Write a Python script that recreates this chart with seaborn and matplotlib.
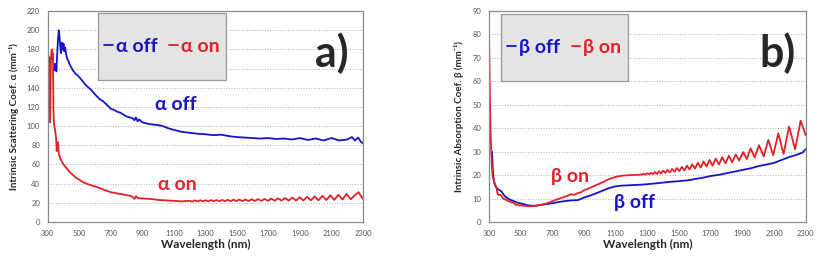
import pandas as pd
import seaborn as sns
import matplotlib.pyplot as plt
from matplotlib.patches import Rectangle

# ======== data ===============================

# panel a) - scattering coefficient alpha
alpha_off_wl = [340, 345, 350, 355, 360, 365, 370, 375, 380, 385, 390, 395, 400, 405, 410, 420, 430, 440,
                450, 460, 470, 480, 490, 500, 520, 540, 560, 580, 600, 630, 650, 670, 700, 720, 740, 760,
                780, 800, 820, 840, 850, 860, 870, 880, 900, 920, 950, 1000, 1030, 1060, 1100, 1150, 1200,
                1250, 1300, 1350, 1400, 1450, 1500, 1550, 1600, 1650, 1700, 1750, 1800, 1850, 1900, 1950,
                2000, 2050, 2100, 2150, 2200, 2230, 2250, 2270, 2285, 2300]
alpha_off = [158, 165, 162, 157, 175, 190, 200, 193, 182, 176, 187, 180, 186, 178, 182, 172, 168, 164,
             161, 158, 156, 154, 153, 151, 147, 143, 140, 137, 133, 128, 126, 123, 118, 117, 115, 114,
             112, 110, 109, 108, 106, 109, 105, 107, 104, 103, 102, 101, 100, 98, 96, 94, 93,
             92, 91.5, 90.5, 91, 89.5, 88.5, 88, 87.5, 87, 87.5, 86.5, 87, 86, 87.5, 85.5,
             87, 85, 87.5, 85, 86, 88.5, 85, 88, 84, 82]

alpha_on_wl = [300, 303, 306, 309, 312, 315, 318, 321, 324, 327, 330, 333, 336, 339, 342, 346, 350, 354,
               357, 360, 363, 366, 369, 372, 380, 390, 400, 420, 440, 460, 480, 500, 530, 560, 600, 650,
               700, 750, 800, 830, 850, 860, 870, 900, 950, 1000, 1050, 1100, 1150,
               1200, 1217, 1234, 1251, 1268, 1285, 1302, 1319, 1336, 1353, 1370, 1388, 1406, 1424, 1442,
               1460, 1478, 1497, 1516, 1535, 1554, 1574, 1594, 1614, 1634, 1655, 1676, 1697, 1718, 1740,
               1762, 1784, 1806, 1829, 1852, 1875, 1898, 1922, 1946, 1970, 1994, 2018, 2043, 2068, 2093,
               2118, 2144, 2170, 2196, 2222, 2249, 2272, 2290, 2300]
alpha_on = [186, 165, 170, 172, 168, 104, 150, 172, 178, 180, 170, 176, 120, 103, 100, 96, 92, 85,
            74, 82, 78, 83, 73, 70, 66, 63, 60, 56, 52, 49, 46, 44, 41, 39, 37, 34,
            31, 29.5, 28, 27, 24, 27, 25, 24.5, 24, 23, 22.5, 22, 21.5,
            22.0, 21.3, 22.5, 21.4, 22.6, 21.5, 22.7, 21.5, 22.8, 21.6, 22.9, 21.6, 23.0, 21.7, 23.1,
            21.7, 23.2, 21.8, 23.3, 21.8, 23.4, 21.9, 23.6, 21.9, 23.8, 22.0, 24.0, 22.0, 24.3, 22.1,
            24.6, 22.2, 25.0, 22.3, 25.4, 22.3, 25.8, 22.4, 26.2, 22.5, 26.6, 22.6, 27.2, 22.8, 27.8,
            23.0, 28.4, 23.3, 29.2, 23.6, 28.0, 31.0, 26.5, 24.0]

# panel b) - absorption coefficient beta
beta_off_wl = [320, 325, 330, 335, 340, 350, 360, 370, 380, 390, 400, 420, 440, 460, 480, 500, 520, 540,
               560, 580, 600, 630, 660, 700, 740, 780, 820, 860, 880, 900, 940, 980, 1020, 1060, 1100,
               1140, 1200, 1260, 1300, 1360, 1400, 1460, 1500, 1560, 1600, 1660, 1700, 1760, 1800, 1860,
               1900, 1960, 2000, 2060, 2100, 2150, 2200, 2250, 2280, 2300]
beta_off = [30, 22, 18, 16.5, 15.5, 14.5, 13.8, 13.5, 13.0, 12.0, 11.0, 10.0, 9.3, 8.8, 8.3, 7.9, 7.6, 7.2,
            7.0, 6.9, 7.0, 7.3, 7.6, 8.0, 8.5, 8.9, 9.2, 9.3, 9.8, 10.4, 11.3, 12.3, 13.4, 14.5, 15.2,
            15.5, 15.7, 15.9, 16.1, 16.5, 16.8, 17.2, 17.4, 17.8, 18.3, 19.0, 19.6, 20.2, 20.8, 21.6,
            22.2, 23.0, 23.8, 24.6, 25.2, 26.5, 27.8, 28.8, 29.6, 31.0]

beta_on_wl = [300, 303, 306, 309, 312, 315, 318, 321, 325, 330, 335, 340, 345, 350, 355, 360, 370, 380,
              390, 400, 420, 440, 460, 470, 480, 490, 500, 520, 540, 560, 580, 600, 620, 650, 680, 700,
              730, 760, 790, 820, 840, 860, 880, 900, 930, 960, 990, 1020, 1050, 1080, 1110, 1140, 1170,
              1200, 1230, 1264, 1276, 1288, 1300, 1312, 1324, 1336, 1348, 1361, 1374, 1387, 1400, 1414,
              1428, 1442, 1457, 1472, 1487, 1502, 1518, 1534, 1550, 1567, 1584, 1601, 1619, 1637, 1655,
              1674, 1693, 1712, 1732, 1752, 1773, 1794, 1815, 1836, 1858, 1880, 1905, 1928, 1952, 1978,
              2005, 2035, 2064, 2095, 2127, 2160, 2195, 2233, 2268, 2300]
beta_on = [84, 70, 55, 45, 36, 30, 25, 22, 19, 18.5, 17, 16, 15, 14, 12, 11.5, 11.7, 11,
           10, 9.7, 9.0, 8.5, 8.0, 7.2, 7.5, 7.0, 7.1, 6.9, 6.8, 6.7, 6.8, 6.9, 7.2, 7.6, 8.3, 8.9,
           9.6, 10.3, 11.0, 11.8, 11.6, 12.3, 12.6, 13.5, 14.3, 15.2, 16.1, 17.0, 18.0, 18.8, 19.4, 19.7, 19.9,
           20.0, 20.1, 20.2, 20.6, 20.2, 20.8, 20.3, 21.0, 20.4, 21.3, 20.5, 21.6, 20.7, 21.9, 20.9,
           22.2, 21.1, 22.6, 21.4, 23.0, 21.7, 23.5, 22.0, 24.0, 22.4, 24.6, 22.8, 25.2, 23.2, 25.8,
           23.6, 26.5, 24.0, 27.0, 24.5, 27.6, 25.0, 28.3, 25.5, 28.8, 26.2, 29.8, 26.8, 31.4, 27.5,
           32.7, 28.0, 35.0, 28.5, 37.8, 29.0, 40.7, 31.0, 43.2, 37.0]

x_ticks = list(range(300, 2301, 200))

BLUE = '#1515c8'
RED = '#e02228'

df_a = pd.concat([
    pd.DataFrame({'wl': alpha_off_wl, 'val': alpha_off, 'series': '\u03b1 off'}),
    pd.DataFrame({'wl': alpha_on_wl, 'val': alpha_on, 'series': '\u03b1 on'}),
])
df_b = pd.concat([
    pd.DataFrame({'wl': beta_off_wl, 'val': beta_off, 'series': '\u03b2 off'}),
    pd.DataFrame({'wl': beta_on_wl, 'val': beta_on, 'series': '\u03b2 on'}),
])

sns.set_style('white')
plt.rcParams['font.family'] = ['Lato', 'DejaVu Sans']

fig = plt.figure(figsize=(8.23, 2.56), dpi=100)
ax1 = fig.add_axes([0.058, 0.133, 0.383, 0.824])
ax2 = fig.add_axes([0.594, 0.133, 0.385, 0.824])


def style_panel(ax, df, names, ymax, ystep, ylabel, box, letter, notes):
    sns.lineplot(data=df, x='wl', y='val', hue='series', palette={names[0]: BLUE, names[1]: RED},
                 linewidth=1.3, ax=ax, estimator=None, sort=False)
    ax.set_xlim(300, 2300)
    ax.set_ylim(0, ymax)
    ax.set_xticks(x_ticks)
    ax.set_yticks(range(0, ymax + 1, ystep))
    ax.tick_params(labelsize=5.5, colors='#555555', length=2, width=0.6)
    ax.yaxis.grid(True, linestyle=':', color='#b0b0b0', linewidth=0.7)
    for s in ax.spines.values():
        s.set_color('#888888')
        s.set_linewidth(0.9)
    ax.set_xlabel('Wavelength (nm)', fontsize=8.5, fontweight='bold', labelpad=2)
    ax.set_ylabel(ylabel, fontsize=7, fontweight='bold', labelpad=6)

    # grey legend box
    ax.add_patch(Rectangle((box[0], box[1]), box[2], box[3], transform=ax.transAxes,
                           facecolor='#e4e4e4', edgecolor='#999999', linewidth=0.9, zorder=3))
    leg = ax.legend(loc='center', bbox_to_anchor=(box[0] + box[2] / 2, box[1] + box[3] / 2),
                    ncol=2, frameon=False, handlelength=0.45, handletextpad=0.15,
                    columnspacing=0.6, prop={'weight': 'bold', 'size': 14}, labelcolor='linecolor')
    leg.set_zorder(4)

    ax.text(letter[0], letter[1], letter[2], transform=ax.transAxes, fontsize=31,
            fontweight='bold', ha='center', va='center')
    for x, y, t, c in notes:
        ax.text(x, y, t, color=c, fontsize=14, fontweight='bold', ha='center', va='center')


style_panel(ax1, df_a, ['\u03b1 off', '\u03b1 on'], 220, 20,
            'Intrinsic Scattering Coef. \u03b1 (mm\u207b\u00b9)',
            (0.16, 0.673, 0.405, 0.317), (0.90, 0.80, 'a)'),
            [(1110, 122, '\u03b1 off', BLUE), (1120, 39, '\u03b1 on', RED)])
style_panel(ax2, df_b, ['\u03b2 off', '\u03b2 on'], 90, 10,
            'Intrinsic Absorption Coef. \u03b2 (mm\u207b\u00b9)',
            (0.038, 0.668, 0.40, 0.318), (0.91, 0.80, 'b)'),
            [(811, 19.2, '\u03b2 on', RED), (1221, 8.1, '\u03b2 off', BLUE)])

plt.savefig('out.png', dpi=100)
